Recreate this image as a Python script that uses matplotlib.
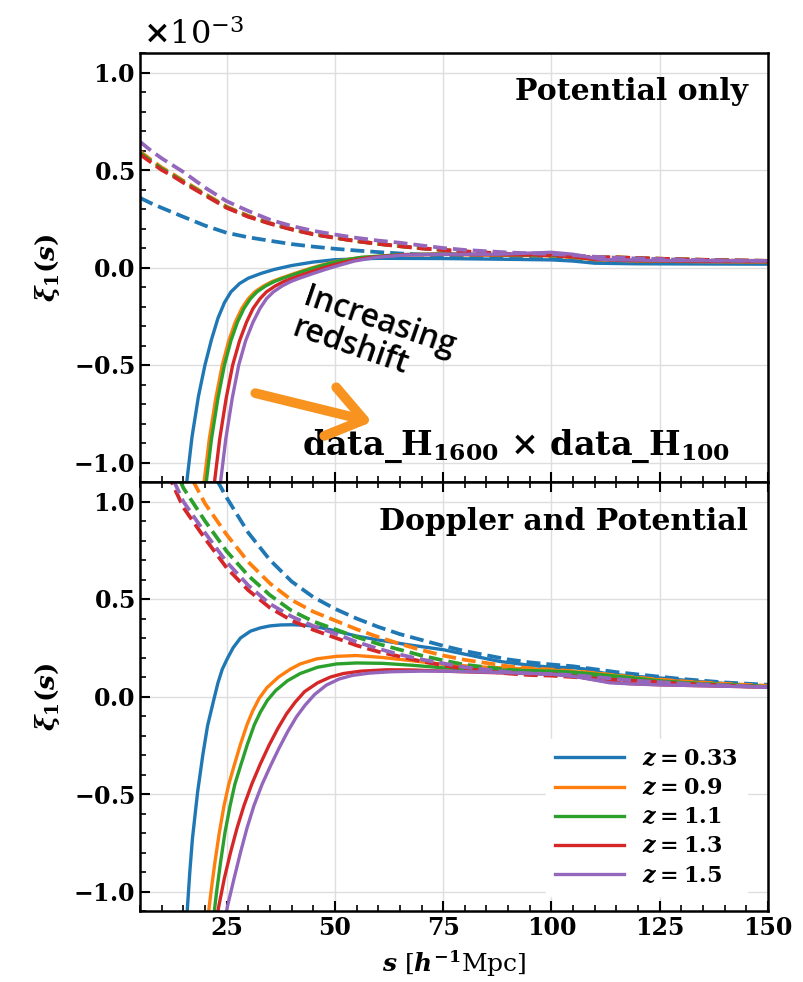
import numpy as np
import matplotlib
matplotlib.use("Agg")
import matplotlib.pyplot as plt
from matplotlib.ticker import MultipleLocator

plt.rcParams['font.family'] = 'serif'
plt.rcParams['font.serif'] = ['DejaVu Serif']
plt.rcParams['font.weight'] = 'bold'
plt.rcParams['mathtext.fontset'] = 'custom'
plt.rcParams['mathtext.rm'] = 'DejaVu Serif:bold'
plt.rcParams['mathtext.it'] = 'DejaVu Serif:italic:bold'
plt.rcParams['mathtext.bf'] = 'DejaVu Serif:bold'

# ---- data (xi in units of 1e-3) ----
labels = ['$z=0.33$', '$z=0.9$', '$z=1.1$', '$z=1.3$', '$z=1.5$']
colors = ['#1f77b4', '#ff7f0e', '#2ca02c', '#d62728', '#9467bd']

s_dash = [5, 7.5, 10, 12.5, 15, 20, 25, 30, 35, 40, 45, 50, 55, 60, 65, 70, 75, 80,
          90, 95, 100, 105, 110, 115, 120, 130, 140, 150]

# potential only, dashed
pot_dash_033 = [0.357, 0.33, 0.306, 0.283, 0.26, 0.215, 0.178, 0.155, 0.137, 0.12, 0.107, 0.096,
                0.087, 0.079, 0.072, 0.066, 0.061, 0.057, 0.05, 0.048, 0.046, 0.042, 0.038,
                0.035, 0.032, 0.029, 0.026, 0.024]
pot_dash_09 = [0.595, 0.553, 0.513, 0.48, 0.445, 0.378, 0.312, 0.265, 0.228, 0.198, 0.172, 0.154,
               0.136, 0.122, 0.11, 0.099, 0.09, 0.082, 0.07, 0.066, 0.062, 0.055, 0.052, 0.052,
               0.048, 0.042, 0.037, 0.034]
pot_dash_11 = [0.588, 0.547, 0.507, 0.475, 0.44, 0.374, 0.309, 0.262, 0.226, 0.196, 0.171, 0.153,
               0.135, 0.121, 0.109, 0.098, 0.09, 0.082, 0.07, 0.066, 0.062, 0.055, 0.052, 0.052,
               0.048, 0.042, 0.037, 0.034]
pot_dash_13 = [0.58, 0.54, 0.50, 0.47, 0.435, 0.37, 0.306, 0.26, 0.225, 0.195, 0.17, 0.152,
               0.135, 0.121, 0.109, 0.098, 0.09, 0.082, 0.07, 0.066, 0.062, 0.055, 0.052, 0.052,
               0.048, 0.042, 0.037, 0.034]
pot_dash_15 = [0.645, 0.6, 0.56, 0.525, 0.49, 0.41, 0.34, 0.29, 0.245, 0.213, 0.188, 0.169,
               0.152, 0.138, 0.127, 0.113, 0.1, 0.09, 0.077, 0.073, 0.07, 0.063, 0.055, 0.05,
               0.046, 0.04, 0.036, 0.034]

# potential only, solid
pot_s_033 = [14.5, 15.8, 17, 18.5, 20, 21.5, 23, 24.5, 26, 28, 30, 33, 36, 40, 45, 50, 60, 75,
             90, 100, 105, 110, 120, 135, 150]
pot_033 = [-1.4, -1.1, -0.87, -0.66, -0.5, -0.37, -0.26, -0.18, -0.125, -0.082, -0.055, -0.03,
           -0.01, 0.01, 0.028, 0.04, 0.047, 0.046, 0.042, 0.039, 0.033, 0.022, 0.019, 0.018,
           0.017]
pot_s_09 = [18.8, 19.8, 21, 22.5, 24, 25.5, 27, 28.5, 30, 31.5, 33.5, 35.5, 37.5, 40.5, 43.5,
            46.5, 50.5, 55.5, 65, 75, 90, 100, 105, 110, 120, 135, 150]
pot_09 = [-1.35, -1.1, -0.88, -0.67, -0.5, -0.375, -0.28, -0.21, -0.16, -0.125, -0.095, -0.072,
          -0.055, -0.032, -0.01, 0.01, 0.032, 0.05, 0.064, 0.067, 0.062, 0.06, 0.052, 0.04,
          0.033, 0.03, 0.028]
pot_s_11 = [19.3, 20.3, 21.5, 23, 24.5, 26, 27.5, 29, 30.5, 32, 34, 36, 38, 41, 44, 47, 51, 56,
            65, 75, 90, 100, 105, 110, 120, 135, 150]
pot_11 = [-1.35, -1.1, -0.88, -0.67, -0.5, -0.375, -0.28, -0.21, -0.16, -0.125, -0.095, -0.072,
          -0.055, -0.032, -0.01, 0.01, 0.033, 0.052, 0.066, 0.07, 0.065, 0.062, 0.055, 0.042,
          0.035, 0.032, 0.03]
pot_s_13 = [21.2, 22.2, 23.4, 24.9, 26.4, 28, 29.6, 31.1, 32.7, 34.2, 36.2, 38.2, 40.2, 43.2,
            46.2, 49.2, 53.2, 58.2, 66, 75, 90, 100, 105, 110, 120, 135, 150]
pot_13 = [-1.35, -1.1, -0.88, -0.67, -0.5, -0.375, -0.28, -0.21, -0.16, -0.125, -0.095, -0.072,
          -0.055, -0.032, -0.01, 0.01, 0.033, 0.052, 0.066, 0.068, 0.065, 0.066, 0.055, 0.042,
          0.035, 0.032, 0.03]
pot_s_15 = [22.6, 23.6, 24.8, 26.3, 27.8, 29.4, 31.1, 32.7, 34.2, 35.8, 37.8, 39.8, 41.8, 44.8,
            47.8, 50.8, 54.5, 59.5, 66, 75, 88, 95, 100, 105, 111.5, 125, 150]
pot_15 = [-1.35, -1.1, -0.88, -0.67, -0.5, -0.375, -0.28, -0.21, -0.16, -0.125, -0.095, -0.072,
          -0.055, -0.032, -0.01, 0.01, 0.033, 0.052, 0.064, 0.068, 0.068, 0.074, 0.078, 0.068,
          0.041, 0.036, 0.034]

# doppler + potential, dashed
dop_dash_033 = [3.2, 2.6, 2.15, 1.8, 1.55, 1.22, 1.02, 0.84, 0.70, 0.59, 0.51, 0.45, 0.40, 0.357,
                0.32, 0.29, 0.26, 0.233, 0.19, 0.175, 0.164, 0.155, 0.14, 0.125, 0.113, 0.09,
                0.072, 0.06]
dop_dash_09 = [2.4, 1.95, 1.65, 1.4, 1.2, 0.99, 0.83, 0.69, 0.58, 0.495, 0.435, 0.39, 0.345,
               0.305, 0.27, 0.238, 0.21, 0.188, 0.155, 0.145, 0.138, 0.13, 0.12, 0.108, 0.096,
               0.078, 0.065, 0.055]
dop_dash_11 = [2.1, 1.7, 1.42, 1.2, 1.07, 0.9, 0.745, 0.62, 0.52, 0.44, 0.385, 0.345, 0.305,
               0.27, 0.24, 0.21, 0.185, 0.163, 0.137, 0.13, 0.125, 0.118, 0.105, 0.095, 0.085,
               0.07, 0.06, 0.05]
dop_dash_13 = [1.85, 1.45, 1.24, 1.09, 0.97, 0.81, 0.66, 0.545, 0.455, 0.39, 0.342, 0.302, 0.262,
               0.23, 0.205, 0.18, 0.16, 0.142, 0.118, 0.11, 0.107, 0.1, 0.092, 0.085, 0.08,
               0.066, 0.056, 0.048]
dop_dash_15 = [1.9, 1.5, 1.27, 1.12, 1.0, 0.84, 0.69, 0.57, 0.475, 0.41, 0.362, 0.323, 0.28,
               0.245, 0.215, 0.19, 0.17, 0.15, 0.125, 0.118, 0.115, 0.11, 0.1, 0.09, 0.08,
               0.067, 0.057, 0.048]

# doppler + potential, solid
dop_s_033 = [15.3, 15.9, 16.5, 17.1, 18.3, 19.5, 20.6, 22, 23, 24, 25.2, 26.5, 28.2, 30.5, 32.8,
             35, 37.5, 40, 43.5, 47, 50, 55, 60, 67, 75, 88, 95, 100, 105, 108, 112, 118, 125,
             135, 150]
dop_033 = [-1.3, -1.1, -0.9, -0.73, -0.49, -0.3, -0.15, -0.02, 0.07, 0.14, 0.196, 0.25, 0.30,
           0.335, 0.352, 0.362, 0.367, 0.368, 0.365, 0.352, 0.337, 0.31, 0.29, 0.265, 0.24,
           0.18, 0.16, 0.15, 0.148, 0.14, 0.12, 0.105, 0.095, 0.075, 0.05]
dop_s_09 = [20.6, 21.4, 22.3, 23.3, 24.4, 25.5, 26.7, 28.2, 29.7, 31, 32.5, 34.3, 37, 39.7, 42,
            45.8, 50.4, 55, 61, 68, 75, 85, 96, 100, 105, 110, 118, 125, 135, 150]
dop_09 = [-1.15, -1.0, -0.85, -0.7, -0.56, -0.45, -0.357, -0.245, -0.145, -0.075, -0.01, 0.045,
          0.1, 0.14, 0.167, 0.193, 0.206, 0.21, 0.2, 0.183, 0.165, 0.15, 0.14, 0.135, 0.128,
          0.12, 0.1, 0.085, 0.07, 0.05]
dop_s_11 = [21.9, 22.7, 23.6, 24.6, 25.8, 26.9, 28.2, 29.8, 31.4, 32.8, 34.4, 36.3, 39, 42, 46,
            50.4, 55, 61, 68, 75, 85, 100, 105, 110, 118, 125, 135, 150]
dop_11 = [-1.15, -1.0, -0.85, -0.7, -0.56, -0.45, -0.357, -0.245, -0.145, -0.08, -0.02, 0.03,
          0.08, 0.118, 0.15, 0.167, 0.172, 0.17, 0.16, 0.147, 0.137, 0.13, 0.125, 0.115, 0.098,
          0.08, 0.065, 0.05]
dop_s_13 = [22.6, 23.2, 24.5, 25.9, 27.4, 29, 30.8, 32.8, 34.8, 36.8, 38.8, 40.8, 43, 46, 49,
            52, 56, 62, 68, 75, 90, 100, 105, 109, 113, 118, 125, 135, 150]
dop_13 = [-1.15, -1.075, -0.93, -0.8, -0.675, -0.56, -0.45, -0.345, -0.25, -0.165, -0.09, -0.03,
          0.025, 0.07, 0.1, 0.118, 0.13, 0.137, 0.136, 0.13, 0.12, 0.115, 0.105, 0.09, 0.075,
          0.066, 0.06, 0.055, 0.048]
dop_s_15 = [24.6, 25.2, 26.7, 28.2, 29.7, 31.3, 33.2, 35.1, 37.1, 39.1, 41.1, 43.1, 45.3, 48,
            51, 54, 58, 63, 70, 75, 85, 93, 100, 106, 113.5, 119, 124.5, 135, 150]
dop_15 = [-1.15, -1.075, -0.935, -0.8, -0.675, -0.56, -0.45, -0.357, -0.265, -0.18, -0.105,
          -0.045, 0.01, 0.058, 0.09, 0.108, 0.12, 0.127, 0.13, 0.13, 0.125, 0.12, 0.115, 0.1,
          0.07, 0.064, 0.06, 0.055, 0.048]

pot_dash = [pot_dash_033, pot_dash_09, pot_dash_11, pot_dash_13, pot_dash_15]
pot_s = [pot_s_033, pot_s_09, pot_s_11, pot_s_13, pot_s_15]
pot_solid = [pot_033, pot_09, pot_11, pot_13, pot_15]
dop_dash = [dop_dash_033, dop_dash_09, dop_dash_11, dop_dash_13, dop_dash_15]
dop_s = [dop_s_033, dop_s_09, dop_s_11, dop_s_13, dop_s_15]
dop_solid = [dop_033, dop_09, dop_11, dop_13, dop_15]

fig = plt.figure(figsize=(8.04, 9.82), dpi=100)
ax1 = fig.add_axes([140 / 804, 1 - 482 / 982, 628 / 804, 429 / 982])
ax2 = fig.add_axes([140 / 804, 1 - 911 / 982, 628 / 804, 429 / 982], sharex=ax1)

for i in range(5):
    ax1.plot(pot_s[i], np.array(pot_solid[i]) * 1e-3, color=colors[i], lw=2.4)
    ax1.plot(s_dash, np.array(pot_dash[i]) * 1e-3, color=colors[i], lw=2.7, ls='--')
    ax2.plot(dop_s[i], np.array(dop_solid[i]) * 1e-3, color=colors[i], lw=2.4, label=labels[i])
    ax2.plot(s_dash, np.array(dop_dash[i]) * 1e-3, color=colors[i], lw=2.7, ls='--')

for ax in (ax1, ax2):
    ax.set_xlim(5, 150)
    ax.set_ylim(-1.1e-3, 1.1e-3)
    ax.xaxis.set_major_locator(MultipleLocator(25))
    ax.xaxis.set_minor_locator(MultipleLocator(5))
    ax.yaxis.set_major_locator(MultipleLocator(0.5e-3))
    ax.yaxis.set_minor_locator(MultipleLocator(0.1e-3))
    ax.ticklabel_format(axis='y', style='sci', scilimits=(-3, -3), useMathText=True)
    ax.tick_params(which='both', direction='in', right=False, labelsize=17)
    ax.tick_params(which='major', length=7, width=1.5)
    ax.tick_params(which='minor', length=4, width=1.2)
    ax.grid(True, which='major', color='#dedede', lw=1.0)
    for sp in ax.spines.values():
        sp.set_linewidth(1.8)
    ax.set_ylabel(r'$\xi_1(s)$', fontsize=19)
    ax.yaxis.set_label_coords(-0.125, 0.5)
    ax.yaxis.get_offset_text().set_visible(False)

ax1.tick_params(which='both', top=False, labelbottom=False)
ax2.tick_params(which='both', top=True)

# scale factor drawn by hand so it can sit where the reference has it
fig.text(143 / 804, 1 - 44 / 982, r'$\times\mathdefault{10^{-3}}$', fontsize=23,
         fontweight='normal', ha='left', va='baseline')

ax2.set_xlabel(r'$s$ [$h^{-1}$Mpc]', fontsize=18)
ax2.xaxis.set_label_coords(0.5, -0.088)

ax1.text(0.968, 0.89, 'Potential only', transform=ax1.transAxes, ha='right',
         va='baseline', fontsize=21.5)
ax2.text(0.968, 0.888, 'Doppler and Potential', transform=ax2.transAxes, ha='right',
         va='baseline', fontsize=21.5)
ax1.text(0.94, 0.063, 'data_H$_{1600}$ × data_H$_{100}$', transform=ax1.transAxes,
         ha='right', va='baseline', fontsize=24)

ax1.text(59, -0.36e-3, 'Increasing\nredshift', family='Open Sans', weight='semibold',
         fontsize=23, rotation=-19, rotation_mode='anchor', ha='center', va='center',
         multialignment='left', linespacing=1.0)
ax1.annotate('', xy=(59.2, -0.795e-3), xytext=(31, -0.641e-3),
             arrowprops=dict(arrowstyle='->,head_length=1.25,head_width=0.9', lw=7,
                             color='#f7931e', mutation_scale=20))

ax2.legend(loc='lower right', bbox_to_anchor=(0.987, 0.005), fontsize=16, handlelength=3.1,
           frameon=True, framealpha=1, edgecolor='white', borderaxespad=0.6,
           labelspacing=0.32, fancybox=False)

fig.savefig('out.png', dpi=100)
